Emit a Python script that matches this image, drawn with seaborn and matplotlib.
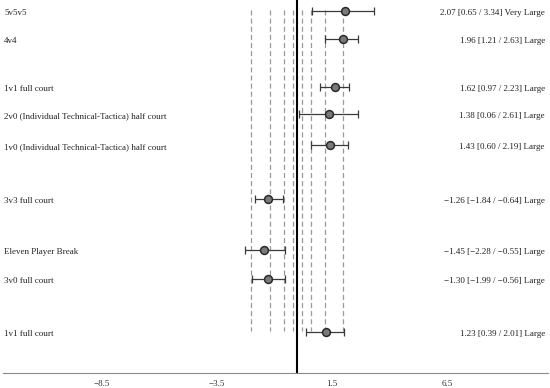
import numpy as np
import seaborn as sns
import matplotlib.pyplot as plt

# forest plot data (effect size with 90% CI)
drills = ["5v5v5", "4v4", "1v1 full court",
          "2v0 (Individual Technical-Tactica) half court",
          "1v0 (Individual Technical-Tactica) half court",
          "3v3 full court", "Eleven Player Break", "3v0 full court",
          "1v1 full court"]
row_pos = [0.0, 1.0, 2.71, 3.68, 4.79, 6.71, 8.5, 9.54, 11.43]
effect = [2.07, 1.96, 1.62, 1.38, 1.43, -1.26, -1.45, -1.30, 1.23]
ci_low = [0.65, 1.21, 0.97, 0.06, 0.60, -1.84, -2.28, -1.99, 0.39]
ci_high = [3.34, 2.63, 2.23, 2.61, 2.19, -0.64, -0.55, -0.56, 2.01]
magnitude = ["Very Large", "Large", "Large", "Large", "Large",
             "Large", "Large", "Large", "Large"]
thresholds = [-2.0, -1.2, -0.6, -0.2, 0.2, 0.6, 1.2, 2.0]
x_ticks = [-8.5, -3.5, 1.5, 6.5]


def fmt(v):
    return f"{v:.2f}".replace("-", "\u2212")


def main():
    sns.set_theme(style="white")
    plt.rcParams['font.family'] = ['Liberation Serif', 'DejaVu Serif']

    fig = plt.figure(figsize=(5.5, 3.88), dpi=100)
    ax = fig.add_axes([3/550, 1 - 373/388, 545/550, 373/388])

    # threshold lines
    ax.vlines(thresholds, -0.04, 11.39, colors="#999999",
              linestyles=(0, (4, 2.5)), linewidth=0.9, zorder=1)
    ax.axvline(0, color="black", linewidth=1.5, zorder=2)

    err = [np.array(effect) - np.array(ci_low), np.array(ci_high) - np.array(effect)]
    ax.errorbar(effect, row_pos, xerr=err, fmt="none", ecolor="#3a3a3a",
                elinewidth=0.9, capsize=3, capthick=0.9, zorder=3)
    sns.scatterplot(x=effect, y=row_pos, ax=ax, s=32, color="#7a7a7a",
                    edgecolor="#2a2a2a", linewidth=1.1, zorder=4, legend=False)

    for name, y, e, lo, hi, m in zip(drills, row_pos, effect, ci_low, ci_high, magnitude):
        ax.text(-12.75, y + 0.07, name, ha="left", va="center", fontsize=6.5, color="#222222")
        ax.text(10.75, y + 0.07, f"{fmt(e)} [{fmt(lo)} / {fmt(hi)}] {m}",
                ha="right", va="center", fontsize=6.5, color="#222222")

    ax.set_xlim(-12.8, 10.89)
    ax.set_ylim(12.89, -0.39)
    ax.set_xticks(x_ticks)
    ax.set_xticklabels([fmt(t).replace(".50", ".5") for t in x_ticks])
    ax.tick_params(axis="x", labelsize=6.5, length=2, width=0.6,
                   color="#999999", labelcolor="#333333", pad=3)
    ax.set_yticks([])
    for side in ["top", "right", "left"]:
        ax.spines[side].set_visible(False)
    ax.spines["bottom"].set_color("#8a8a8a")
    ax.spines["bottom"].set_linewidth(0.8)

    fig.savefig("out.png", dpi=100)


if __name__ == "__main__":
    main()
